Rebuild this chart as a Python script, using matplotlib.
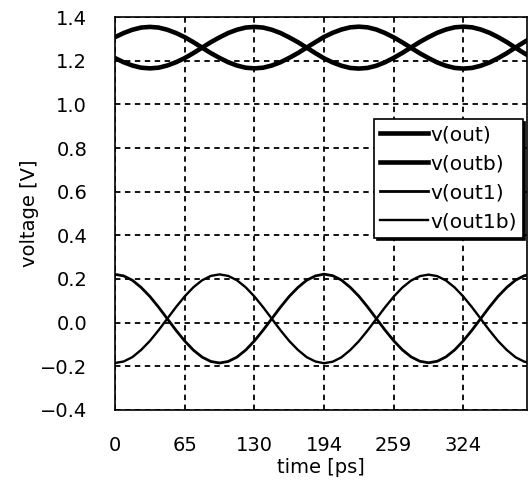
import matplotlib.pyplot as plt

# time axis in ps (one sample every 8.1 ps)
time_ps = [round(8.1 * i, 1) for i in range(49)]

# differential output (top pair)
v_out = [1.308, 1.327, 1.342, 1.352, 1.355, 1.352, 1.342, 1.327, 1.308, 1.285, 1.260, 1.235,
         1.213, 1.193, 1.178, 1.168, 1.165, 1.168, 1.178, 1.193, 1.213, 1.235, 1.260, 1.285,
         1.309, 1.328, 1.343, 1.353, 1.356, 1.353, 1.343, 1.327, 1.307, 1.284, 1.259, 1.234,
         1.212, 1.192, 1.177, 1.167, 1.164, 1.167, 1.177, 1.192, 1.212, 1.235, 1.261, 1.286,
         1.309]
v_outb = [1.212, 1.193, 1.178, 1.168, 1.165, 1.168, 1.178, 1.193, 1.212, 1.235, 1.260, 1.285,
          1.307, 1.327, 1.342, 1.352, 1.355, 1.352, 1.342, 1.327, 1.307, 1.285, 1.260, 1.235,
          1.211, 1.192, 1.177, 1.167, 1.164, 1.167, 1.177, 1.193, 1.213, 1.236, 1.261, 1.286,
          1.308, 1.328, 1.343, 1.353, 1.356, 1.353, 1.343, 1.328, 1.308, 1.285, 1.259, 1.234,
          1.211]

# second stage output (bottom pair)
v_out1 = [0.221, 0.214, 0.194, 0.161, 0.120, 0.071, 0.018, -0.035, -0.084, -0.126, -0.158, -0.178,
          -0.185, -0.178, -0.158, -0.126, -0.084, -0.035, 0.018, 0.071, 0.120, 0.161, 0.194, 0.214,
          0.222, 0.215, 0.195, 0.162, 0.121, 0.072, 0.019, -0.034, -0.083, -0.125, -0.157, -0.177,
          -0.184, -0.177, -0.157, -0.125, -0.083, -0.034, 0.019, 0.072, 0.121, 0.162, 0.195, 0.215,
          0.222]
v_out1b = [-0.185, -0.178, -0.158, -0.125, -0.084, -0.035, 0.018, 0.071, 0.120, 0.162, 0.194, 0.214,
           0.221, 0.214, 0.194, 0.162, 0.120, 0.071, 0.018, -0.035, -0.084, -0.125, -0.158, -0.178,
           -0.186, -0.179, -0.159, -0.126, -0.085, -0.036, 0.017, 0.070, 0.119, 0.161, 0.193, 0.213,
           0.220, 0.213, 0.193, 0.161, 0.119, 0.070, 0.017, -0.036, -0.085, -0.126, -0.159, -0.179,
           -0.186]

x_ticks = [0, 64.8, 129.6, 194.4, 259.2, 324.0]
x_tick_labels = ["0", "65", "130", "194", "259", "324"]
y_ticks = [-0.4, -0.2, 0.0, 0.2, 0.4, 0.6, 0.8, 1.0, 1.2, 1.4]
y_tick_labels = ["\u22120.4", "\u22120.2", "0.0", "0.2", "0.4", "0.6", "0.8", "1.0", "1.2", "1.4"]

plt.rcParams['font.family'] = ['DejaVu Sans']
plt.rcParams['font.size'] = 14

fig = plt.figure(figsize=(5.3, 4.88), dpi=100)
ax = fig.add_axes([0.217, 0.16, 0.777, 0.805])

ax.plot(time_ps, v_out, color='black', linewidth=3.3, label='v(out)')
ax.plot(time_ps, v_outb, color='black', linewidth=3.3, label='v(outb)')
ax.plot(time_ps, v_out1, color='black', linewidth=2.0, label='v(out1)')
ax.plot(time_ps, v_out1b, color='black', linewidth=1.7, label='v(out1b)')

ax.set_xlim(0, 383)
ax.set_ylim(-0.4, 1.4)
ax.set_xticks(x_ticks)
ax.set_xticklabels(x_tick_labels)
ax.set_yticks(y_ticks)
ax.set_yticklabels(y_tick_labels)
ax.tick_params(axis='both', length=0)
ax.tick_params(axis='y', pad=20)
ax.tick_params(axis='x', pad=19)

# dashed grid like the scope plot
ax.grid(True, color='black', linestyle=(0, (3, 2.5)), linewidth=1.3)
for s in ax.spines.values():
    s.set_linewidth(1.2)

ax.set_xlabel("time [ps]", labelpad=2)
ax.set_ylabel("voltage [V]", labelpad=1)

leg = ax.legend(loc='upper right', bbox_to_anchor=(0.99, 0.74), fancybox=False,
                edgecolor='black', framealpha=1, fontsize=14.5, handlelength=2.4,
                handletextpad=0.1, labelspacing=0.5, borderpad=0.3, borderaxespad=0,
                shadow={'color': 'black', 'alpha': 1})
leg.get_frame().set_linewidth(1.2)

fig.savefig("out.png", dpi=100)
